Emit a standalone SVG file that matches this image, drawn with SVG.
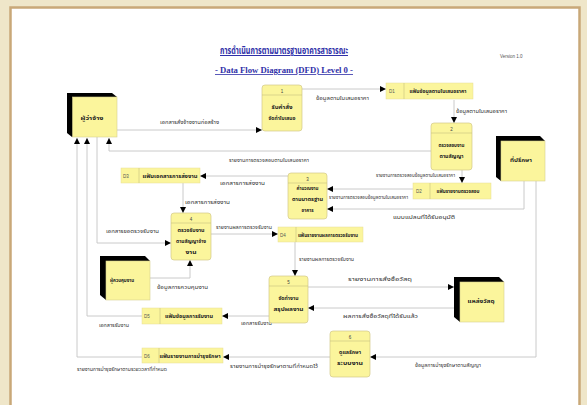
<svg xmlns="http://www.w3.org/2000/svg" width="587" height="405" viewBox="0 0 587 405">
<defs>
<marker id="ah" markerUnits="userSpaceOnUse" markerWidth="6" markerHeight="6" viewBox="0 0 6 6" refX="6" refY="3" orient="auto">
<path d="M0,0 L6,3 L0,6 Z" fill="#000"/>
</marker>
</defs>
<style>
.bg{fill:#efe6c9}
.panel{fill:#ffffff;stroke:#c9a878;stroke-width:2.5}
.ent{fill:#fbf59c;stroke:#d8d090;stroke-width:0.6}
.sh{fill:#000}
.proc{fill:#fbf59c;stroke:#d2c98a;stroke-width:0.7}
.store{fill:#fbf59c;stroke:#e6dd96;stroke-width:0.5}
.div{stroke:#c8bf80;stroke-width:0.6}
.con{fill:none;stroke:#c4c4c4;stroke-width:0.9;marker-end:url(#ah)}
.lbl{font-family:"Noto Sans Thai","Noto Sans","DejaVu Sans",sans-serif;font-size:5px;fill:#333;text-anchor:middle}
.nl{font-family:"Noto Sans Thai","Noto Sans","DejaVu Sans",sans-serif;font-size:5.5px;font-weight:bold;fill:#222;text-anchor:middle}
.num{font-family:"Liberation Sans",sans-serif;font-size:4.5px;fill:#444;text-anchor:middle}
.sid{font-family:"Liberation Sans",sans-serif;font-size:4.5px;fill:#555}
.title{font-family:"Noto Sans Thai","Noto Sans","DejaVu Sans",sans-serif;font-size:10px;font-weight:bold;fill:#3030a8;text-anchor:middle;text-decoration:underline}
.sub{font-family:"Liberation Serif",serif;font-size:8px;font-weight:bold;fill:#3030a8;text-anchor:middle;text-decoration:underline}
.ver{font-family:"Liberation Sans",sans-serif;font-size:4.5px;fill:#555}
</style>
<rect class="bg" x="0" y="0" width="587" height="405"/>
<rect class="panel" x="10.5" y="7.5" width="569" height="402"/>

<text class="title" x="284" y="54" textLength="128" lengthAdjust="spacingAndGlyphs">การดำเนินการตามมาตรฐานอาคารสาธารณะ</text>
<text class="sub" x="284" y="73" textLength="138" lengthAdjust="spacingAndGlyphs">- Data Flow Diagram (DFD) Level 0 -</text>
<text class="ver" x="500" y="58">Version 1.0</text>

<g id="connectors">
<path class="con" d="M117,130 H262"/>
<path class="con" d="M302,89 H386"/>
<path class="con" d="M454,100 V123"/>
<path class="con" d="M462,170 V183"/>
<path class="con" d="M431,151 H109 V138"/>
<path class="con" d="M413,189 H327"/>
<path class="con" d="M524,181 V209 H327"/>
<path class="con" d="M288,176 H200"/>
<path class="con" d="M183,183 V213"/>
<path class="con" d="M97,137 V243 H171"/>
<path class="con" d="M211,234 H278"/>
<path class="con" d="M295,242 V276"/>
<path class="con" d="M150,278 H190 V260"/>
<path class="con" d="M308,287 H454"/>
<path class="con" d="M454,308 H308"/>
<path class="con" d="M269,316 H222"/>
<path class="con" d="M142,316 H87 V138"/>
<path class="con" d="M536,181 V357 H370"/>
<path class="con" d="M330,357 H223"/>
<path class="con" d="M142,357 H77 V138"/>
<text class="lbl" x="189.5" y="124" textLength="59" lengthAdjust="spacingAndGlyphs">เอกสารสั่งจ้างงานก่อสร้าง</text>
<text class="lbl" x="342.5" y="100" textLength="53" lengthAdjust="spacingAndGlyphs">ข้อมูลตามใบเสนอราคา</text>
<text class="lbl" x="481.5" y="113" textLength="51" lengthAdjust="spacingAndGlyphs">ข้อมูลตามใบเสนอราคา</text>
<text class="lbl" x="415.5" y="177" textLength="79" lengthAdjust="spacingAndGlyphs">รายงานการตรวจสอบข้อมูลตามใบเสนอราคา</text>
<text class="lbl" x="269" y="162" textLength="80" lengthAdjust="spacingAndGlyphs">รายงานการตรวจสอบตามใบเสนอราคา</text>
<text class="lbl" x="368.5" y="199" textLength="79" lengthAdjust="spacingAndGlyphs">รายงานการตรวจสอบข้อมูลตามใบเสนอราคา</text>
<text class="lbl" x="424" y="219" textLength="62" lengthAdjust="spacingAndGlyphs">แบบแปลนที่ได้รับอนุมัติ</text>
<text class="lbl" x="242.5" y="185" textLength="45" lengthAdjust="spacingAndGlyphs">เอกสารการส่งงาน</text>
<text class="lbl" x="207.5" y="204" textLength="45" lengthAdjust="spacingAndGlyphs">เอกสารการส่งงาน</text>
<text class="lbl" x="132.5" y="233" textLength="53" lengthAdjust="spacingAndGlyphs">เอกสารขอตรวจรับงาน</text>
<text class="lbl" x="244" y="229" textLength="56" lengthAdjust="spacingAndGlyphs">รายงานผลการตรวจรับงาน</text>
<text class="lbl" x="326.5" y="261" textLength="55" lengthAdjust="spacingAndGlyphs">รายงานผลการตรวจรับงาน</text>
<text class="lbl" x="182.5" y="289" textLength="51" lengthAdjust="spacingAndGlyphs">ข้อมูลการควบคุมงาน</text>
<text class="lbl" x="380" y="281" textLength="64" lengthAdjust="spacingAndGlyphs">รายงานการสั่งซื้อวัสดุ</text>
<text class="lbl" x="380.5" y="318" textLength="75" lengthAdjust="spacingAndGlyphs">ผลการสั่งซื้อวัสดุที่ได้รับแล้ว</text>
<text class="lbl" x="256.5" y="325" textLength="31" lengthAdjust="spacingAndGlyphs">เอกสารรับงาน</text>
<text class="lbl" x="114" y="327" textLength="30" lengthAdjust="spacingAndGlyphs">เอกสารรับงาน</text>
<text class="lbl" x="448" y="367" textLength="66" lengthAdjust="spacingAndGlyphs">ข้อมูลการบำรุงรักษาตามสัญญา</text>
<text class="lbl" x="274" y="368" textLength="88" lengthAdjust="spacingAndGlyphs">รายงานการบำรุงรักษาตามที่กำหนดไว้</text>
<text class="lbl" x="122" y="371" textLength="90" lengthAdjust="spacingAndGlyphs">รายงานการบำรุงรักษาตามระยะเวลาที่กำหนด</text>
</g>

<g id="E1">
<polygon class="sh" points="67,93 112,93 117,97 117,137 72,137 67,133"/>
<rect class="ent" x="72.5" y="97" width="44.5" height="40"/>
<text class="nl" x="92" y="120" textLength="23" lengthAdjust="spacingAndGlyphs">ผู้ว่าจ้าง</text>
</g>
<g id="E2">
<polygon class="sh" points="496,136 540,136 545,141 545,181 501,181 496,177"/>
<rect class="ent" x="501" y="141" width="44" height="40"/>
<text class="nl" x="521" y="162" textLength="22" lengthAdjust="spacingAndGlyphs">ที่ปรึกษา</text>
</g>
<g id="E3">
<polygon class="sh" points="100,256 145,256 150,261 150,300 106,300 100,295"/>
<rect class="ent" x="106" y="261" width="44" height="39"/>
<text class="nl" x="122" y="282" textLength="24" lengthAdjust="spacingAndGlyphs">ผู้ควบคุมงาน</text>
</g>
<g id="E4">
<polygon class="sh" points="454,277 499,277 504,282 504,322 460,322 454,317"/>
<rect class="ent" x="460" y="282" width="44" height="40"/>
<text class="nl" x="481" y="303" textLength="27" lengthAdjust="spacingAndGlyphs">แหล่งวัสดุ</text>
</g>

<g id="P1">
<rect class="proc" x="262" y="85" width="40" height="46" rx="3"/>
<line class="div" x1="262" y1="95" x2="302" y2="95"/>
<text class="num" x="282" y="93">1</text>
<text class="nl" x="282" y="109" textLength="21" lengthAdjust="spacingAndGlyphs">รับคำสั่ง</text>
<text class="nl" x="282" y="120" textLength="27" lengthAdjust="spacingAndGlyphs">จัดทำใบเสนอ</text>
</g>
<g id="P2">
<rect class="proc" x="431" y="123" width="41" height="47" rx="3"/>
<line class="div" x1="431" y1="133" x2="472" y2="133"/>
<text class="num" x="451.5" y="131">2</text>
<text class="nl" x="451.5" y="147" textLength="26" lengthAdjust="spacingAndGlyphs">ตรวจสอบงาน</text>
<text class="nl" x="451.5" y="158" textLength="24" lengthAdjust="spacingAndGlyphs">ตามสัญญา</text>
</g>
<g id="P3">
<rect class="proc" x="288" y="173" width="39" height="46" rx="3"/>
<line class="div" x1="288" y1="183" x2="327" y2="183"/>
<text class="num" x="307.5" y="181">3</text>
<text class="nl" x="307.5" y="190" textLength="22" lengthAdjust="spacingAndGlyphs">คำนวณงาน</text>
<text class="nl" x="307.5" y="201" textLength="31" lengthAdjust="spacingAndGlyphs">ตามมาตรฐาน</text>
<text class="nl" x="307.5" y="212" textLength="12" lengthAdjust="spacingAndGlyphs">อาคาร</text>
</g>
<g id="P4">
<rect class="proc" x="171" y="213" width="40" height="47" rx="3"/>
<line class="div" x1="171" y1="223" x2="211" y2="223"/>
<text class="num" x="191" y="221">4</text>
<text class="nl" x="191" y="232" textLength="27" lengthAdjust="spacingAndGlyphs">ตรวจรับงาน</text>
<text class="nl" x="191" y="243" textLength="30" lengthAdjust="spacingAndGlyphs">ตามสัญญาจ้าง</text>
<text class="nl" x="191" y="254" textLength="11" lengthAdjust="spacingAndGlyphs">งาน</text>
</g>
<g id="P5">
<rect class="proc" x="269" y="276" width="39" height="47" rx="3"/>
<line class="div" x1="269" y1="286" x2="308" y2="286"/>
<text class="num" x="288.5" y="284">5</text>
<text class="nl" x="288.5" y="300" textLength="20" lengthAdjust="spacingAndGlyphs">จัดทำงาน</text>
<text class="nl" x="288.5" y="311" textLength="30" lengthAdjust="spacingAndGlyphs">สรุปผลงาน</text>
</g>
<g id="P6">
<rect class="proc" x="330" y="331" width="40" height="46" rx="3"/>
<line class="div" x1="330" y1="341" x2="370" y2="341"/>
<text class="num" x="350" y="339">6</text>
<text class="nl" x="350" y="354" textLength="22" lengthAdjust="spacingAndGlyphs">ดูแลรักษา</text>
<text class="nl" x="350" y="365" textLength="26" lengthAdjust="spacingAndGlyphs">ระบบงาน</text>
</g>

<g id="D1">
<rect class="store" x="386" y="83" width="87" height="16"/>
<line class="div" x1="404" y1="83" x2="404" y2="99"/>
<text class="sid" x="389" y="93">D1</text>
<text class="nl" x="438" y="93" textLength="57" lengthAdjust="spacingAndGlyphs">แฟ้มข้อมูลตามใบเสนอราคา</text>
</g>
<g id="D2">
<rect class="store" x="413" y="183" width="78" height="16"/>
<line class="div" x1="430" y1="183" x2="430" y2="199"/>
<text class="sid" x="416" y="193">D2</text>
<text class="nl" x="458" y="193" textLength="43" lengthAdjust="spacingAndGlyphs">แฟ้มรายงานตรวจสอบ</text>
</g>
<g id="D3">
<rect class="store" x="121" y="168" width="79" height="15"/>
<line class="div" x1="139" y1="168" x2="139" y2="183"/>
<text class="sid" x="123" y="177.5">D3</text>
<text class="nl" x="170" y="177.5" textLength="55" lengthAdjust="spacingAndGlyphs">แฟ้มเอกสารการส่งงาน</text>
</g>
<g id="D4">
<rect class="store" x="278" y="227" width="85" height="15"/>
<line class="div" x1="296" y1="227" x2="296" y2="242"/>
<text class="sid" x="280" y="236.5">D4</text>
<text class="nl" x="328" y="236.5" textLength="60" lengthAdjust="spacingAndGlyphs">แฟ้มรายงานผลการตรวจรับงาน</text>
</g>
<g id="D5">
<rect class="store" x="142" y="308" width="80" height="16"/>
<line class="div" x1="160" y1="308" x2="160" y2="324"/>
<text class="sid" x="144" y="318">D5</text>
<text class="nl" x="189" y="318" textLength="48" lengthAdjust="spacingAndGlyphs">แฟ้มข้อมูลการรับงาน</text>
</g>
<g id="D6">
<rect class="store" x="142" y="348" width="81" height="15"/>
<line class="div" x1="159" y1="348" x2="159" y2="363"/>
<text class="sid" x="144" y="357.5">D6</text>
<text class="nl" x="190" y="357.5" textLength="61" lengthAdjust="spacingAndGlyphs">แฟ้มรายงานการบำรุงรักษา</text>
</g>
</svg>
